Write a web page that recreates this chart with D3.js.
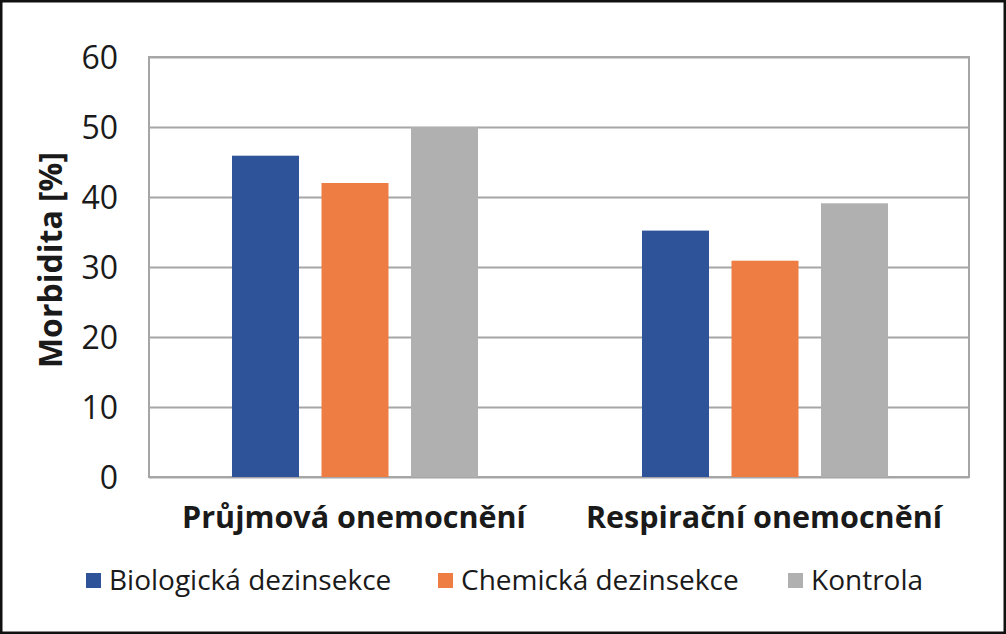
<!DOCTYPE html>
<html><head><meta charset="utf-8">
<script src="https://cdn.jsdelivr.net/npm/d3@7"></script>
<style>body{margin:0;background:#fff}svg{display:block}text{font-family:"Open Sans",sans-serif;fill:#1a1a1a}</style>
</head><body>
<svg id="c" width="1006" height="634"></svg>
<script>
const categories = ["Průjmová onemocnění", "Respirační onemocnění"];
const seriesNames = ["Biologická dezinsekce", "Chemická dezinsekce", "Kontrola"];
const biologicka = [45.9, 35.2];
const chemicka = [42.0, 30.9];
const kontrola = [50.0, 39.1];
const yTicks = [0, 10, 20, 30, 40, 50, 60];
const colors = ["#2f5398", "#ee7d43", "#b0b0b0"];
const series = [biologicka, chemicka, kontrola];

const svg = d3.select("#c");
const m = {l:149, r:969, t:57, b:477};

svg.append("rect").attr("x",1.25).attr("y",1.25).attr("width",1003.5).attr("height",631.5)
  .attr("fill","#fff").attr("stroke","#111").attr("stroke-width",2.5);

const x0 = d3.scaleBand().domain(categories).range([m.l, m.r]).padding(0);
const x1 = d3.scaleBand().domain(seriesNames).range([1, x0.bandwidth()+1]).paddingInner(0.2514).paddingOuter(0.916);
const y = d3.scaleLinear().domain([0, 60]).range([m.b, m.t]);

// gridlines
const yAxis = d3.axisLeft(y).tickValues(yTicks).tickSize(-(m.r-m.l)).tickFormat("");
const g = svg.append("g").attr("transform",`translate(${m.l},0)`).call(yAxis);
g.select(".domain").remove();
g.selectAll("line").attr("stroke","#a6a6a6").attr("stroke-width",2);

// plot border
svg.append("rect").attr("x",m.l).attr("y",m.t).attr("width",m.r-m.l).attr("height",m.b-m.t)
  .attr("fill","none").attr("stroke","#a6a6a6").attr("stroke-width",2);

// bars
const groups = svg.append("g").selectAll("g").data(categories).join("g")
  .attr("transform", d => `translate(${x0(d)},0)`);
groups.selectAll("rect").data((c,ci) => seriesNames.map((s,si) => ({s, si, v: series[si][ci]})))
  .join("rect")
  .attr("x", d => x1(d.s)).attr("width", x1.bandwidth())
  .attr("y", d => y(d.v)).attr("height", d => y(0) - y(d.v))
  .attr("fill", d => colors[d.si]);

// y tick labels
svg.append("g").selectAll("text").data(yTicks).join("text")
  .attr("x", 118).attr("y", d => y(d)).attr("dy","0.36em")
  .attr("text-anchor","end").style("font-size","32px").text(d => d);

// y title
svg.append("text").attr("transform","translate(62,260) rotate(-90)")
  .attr("text-anchor","middle").style("font-size","32px").style("font-weight","bold")
  .text("Morbidita [%]");

// category labels
svg.append("g").selectAll("text").data(categories).join("text")
  .attr("x", d => x0(d) + x0.bandwidth()/2).attr("y", 528)
  .attr("text-anchor","middle").style("font-size","30.5px").style("font-weight","bold")
  .text(d => d);

// legend
const legX = [86, 438, 788];
const leg = svg.append("g").selectAll("g").data(seriesNames).join("g")
  .attr("transform", (d,i) => `translate(${legX[i]},0)`);
leg.append("rect").attr("x",0).attr("y",573).attr("width",15).attr("height",15)
  .attr("fill",(d,i)=>colors[i]);
leg.append("text").attr("x",23).attr("y",590).style("font-size","28px").text(d=>d);
</script>
</body></html>
